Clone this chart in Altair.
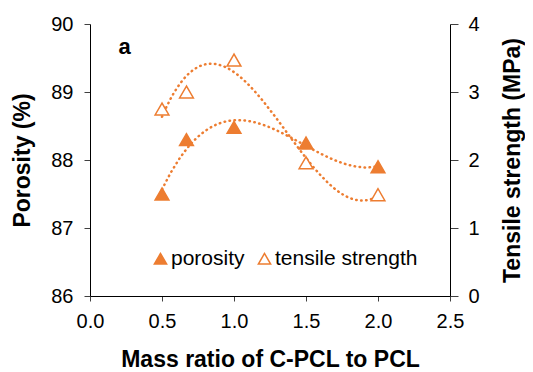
import altair as alt
import pandas as pd

# data
mass_ratio = [0.5, 0.67, 1.0, 1.5, 2.0]
porosity = [87.5, 88.3, 88.48, 88.25, 87.9]
tensile = [2.75, 3.0, 3.47, 1.96, 1.49]
series_names = ["porosity", "tensile strength"]
panel_label = ["a"]
panel_label_x = [0.24]
panel_label_y = [89.66]

ORANGE = "#ED7D31"
FONT = "Liberation Sans"

df_p = pd.DataFrame({"x": mass_ratio, "y": porosity, "series": series_names[0]})
df_t = pd.DataFrame({"x": mass_ratio, "y": tensile, "series": series_names[1]})
df_a = pd.DataFrame({"x": panel_label_x, "y": panel_label_y, "t": panel_label})

x_enc = alt.X(
    "x:Q",
    scale=alt.Scale(domain=[0, 2.5], nice=False),
    axis=alt.Axis(
        title="Mass ratio of C-PCL to PCL",
        values=[0, 0.5, 1.0, 1.5, 2.0, 2.5],
        format=".1f",
        grid=False,
        tickSize=5,
        labelPadding=10,
        titlePadding=17,
        labelFlush=False,
    ),
)

fill_enc = alt.Fill(
    "series:N",
    scale=alt.Scale(domain=series_names, range=[ORANGE, "#FFFFFF"]),
    legend=alt.Legend(
        title=None,
        orient="none",
        direction="horizontal",
        legendX=60,
        legendY=224,
        symbolType="triangle-up",
        symbolSize=150,
        symbolStrokeColor=ORANGE,
        symbolStrokeWidth=1.5,
        labelFontSize=21,
        labelFont=FONT,
        labelColor="#000000",
        labelOffset=0,
        columnPadding=9,
        padding=0,
    ),
)

left_y = alt.Y(
    "y:Q",
    scale=alt.Scale(domain=[86, 90], nice=False),
    axis=alt.Axis(
        title="Porosity (%)",
        values=[86, 87, 88, 89, 90],
        grid=False,
        tickSize=6,
        labelPadding=11,
        titlePadding=16,
    ),
)

right_y = alt.Y(
    "y:Q",
    scale=alt.Scale(domain=[0, 4], nice=False),
    axis=alt.Axis(
        title="Tensile strength (MPa)",
        orient="right",
        values=[0, 1, 2, 3, 4],
        grid=False,
        tickSize=8,
        labelPadding=10,
        titlePadding=22,
        titleAngle=270,
        titleBaseline="top",
    ),
)

dot_style = dict(color=ORANGE, strokeWidth=2.5, strokeDash=[0.5, 4.5], strokeCap="round")

p_points = alt.Chart(df_p).mark_point(
    shape="triangle-up", filled=True, size=190, stroke=ORANGE, strokeWidth=1.5, opacity=1
).encode(x=x_enc, y=left_y, fill=fill_enc)

p_trend = alt.Chart(df_p).transform_regression(
    "x", "y", method="poly", order=3, extent=[0.5, 2.0]
).mark_line(**dot_style).encode(x=x_enc, y=left_y)

label_a = alt.Chart(df_a).mark_text(
    fontSize=22, fontWeight="bold", font=FONT, color="#000000"
).encode(x=x_enc, y=left_y, text="t:N")

t_points = alt.Chart(df_t).mark_point(
    shape="triangle-up", filled=True, size=190, stroke=ORANGE, strokeWidth=1.5, opacity=1
).encode(x=x_enc, y=right_y, fill=fill_enc)

t_trend = alt.Chart(df_t).transform_regression(
    "x", "y", method="poly", order=3, extent=[0.5, 2.0]
).mark_line(**dot_style).encode(x=x_enc, y=right_y)

left = alt.layer(p_trend, p_points, label_a)
right = alt.layer(t_trend, t_points)

chart = alt.layer(left, right).resolve_scale(y="independent").properties(
    width=360,
    height=272,
    autosize=alt.AutoSizeParams(type="none"),
    padding={"left": 82, "top": 16, "right": 75, "bottom": 76},
).configure_view(stroke=None).configure_axis(
    labelFont=FONT,
    titleFont=FONT,
    labelFontSize=20,
    titleFontSize=23,
    titleFontWeight="bold",
    labelColor="#000000",
    titleColor="#000000",
    domainColor="#000000",
    tickColor="#404040",
    domainWidth=1,
    tickWidth=1,
)

chart.save("out.html", embed_options={"renderer": "svg", "actions": False})
